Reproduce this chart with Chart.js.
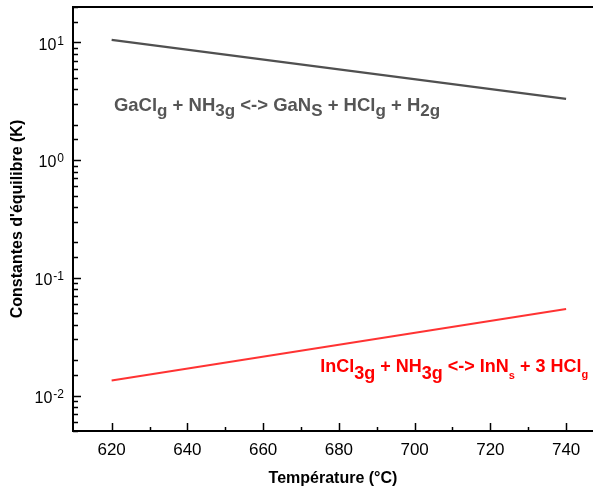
<!DOCTYPE html>
<html>
<head>
<meta charset="utf-8">
<script src="https://cdn.jsdelivr.net/npm/chart.js@4.4.0/dist/chart.umd.min.js"></script>
<style>
html,body{margin:0;padding:0;background:#fff;overflow:hidden;}
canvas{display:block;}
</style>
</head>
<body>
<canvas id="c" width="593" height="491"></canvas>
<script>
// ---- data ----
const temperatures = [620, 740];
const kGaN = [10.5, 3.31];
const kInN = [0.0134, 0.0543];
const xTickValues = [620, 640, 660, 680, 700, 720, 740];
const xMinorTickValues = [630, 650, 670, 690, 710, 730];
const yMajorTickValues = [0.01, 0.1, 1, 10];
const yTickExponents = ['-2', '-1', '0', '1'];
const xTitle = 'Température (°C)';
const yTitle = "Constantes d'équilibre (K)";

const FONT = "'Liberation Sans', Arial, Helvetica, sans-serif";

// annotation text segments (text, font size, subscript shift)
const gaNLabel = [
  ['GaCl',18.5,0],['g',17,5],[' + NH',18.5,0],['3g',17,5],[' <-> GaN',18.5,0],['S',17,5],
  [' + HCl',18.5,0],['g',17,5],[' + H',18.5,0],['2g',17,5]
];
const inNLabel = [
  ['InCl',18,0],['3g',18,7],[' + NH',18,0],['3g',18,7],[' <-> InN',18,0],['s',11,7],
  [' + 3 HCl',18,0],['g',11,6]
];
const gaNLabelAnchor = {x: 620.6, y: 2.6};
const inNLabelAnchor = {x: 675.1, y: 0.0158};

function drawRich(ctx, segs, x, y, color){
  ctx.save();
  ctx.fillStyle = color;
  ctx.textBaseline = 'alphabetic';
  ctx.textAlign = 'left';
  let cx = x;
  for (const [t,s,dy] of segs){
    ctx.font = 'bold ' + s + 'px ' + FONT;
    ctx.fillText(t, cx, y + dy);
    cx += ctx.measureText(t).width;
  }
  ctx.restore();
}

const framePlugin = {
  id: 'frame',
  afterDatasetsDraw(chart){
    const {ctx, chartArea: a, scales} = chart;
    const xs = scales.x, ys = scales.y;
    ctx.save();
    ctx.strokeStyle = '#000';
    ctx.lineWidth = 2;
    ctx.beginPath();
    ctx.moveTo(chart.width + 2, a.top);
    ctx.lineTo(a.left, a.top);
    ctx.lineTo(a.left, a.bottom);
    ctx.lineTo(chart.width + 2, a.bottom);
    ctx.stroke();
    ctx.lineWidth = 1.5;
    ctx.beginPath();
    // x ticks (inward)
    for (const v of xTickValues){
      const px = Math.round(xs.getPixelForValue(v)) + 0.5;
      ctx.moveTo(px, a.bottom); ctx.lineTo(px, a.bottom - 8);
    }
    for (const v of xMinorTickValues){
      const px = Math.round(xs.getPixelForValue(v)) + 0.5;
      ctx.moveTo(px, a.bottom); ctx.lineTo(px, a.bottom - 4);
    }
    // y ticks (inward) from the log scale
    for (const t of ys.ticks){
      const v = t.value;
      if (v < ys.min || v > ys.max) continue;
      const lg = Math.log10(v);
      const major = Math.abs(lg - Math.round(lg)) < 1e-9;
      const py = Math.round(ys.getPixelForValue(v)) + 0.5;
      ctx.moveTo(a.left, py); ctx.lineTo(a.left + (major ? 8 : 5), py);
    }
    ctx.stroke();

    // y tick labels 10^n
    ctx.fillStyle = '#000';
    ctx.textBaseline = 'alphabetic';
    ctx.textAlign = 'left';
    yMajorTickValues.forEach((v, i) => {
      const py = ys.getPixelForValue(v);
      ctx.font = '16px ' + FONT;
      const wb = ctx.measureText('10').width;
      ctx.font = '12px ' + FONT;
      const we = ctx.measureText(yTickExponents[i]).width;
      const right = a.left - 9;
      const x0 = right - we - 1 - wb;
      ctx.font = '16px ' + FONT;
      ctx.fillText('10', x0, py + 7.3);
      ctx.font = '12px ' + FONT;
      ctx.fillText(yTickExponents[i], x0 + wb + 1, py + 2.3);
    });

    // annotations
    drawRich(ctx, gaNLabel, xs.getPixelForValue(gaNLabelAnchor.x), ys.getPixelForValue(gaNLabelAnchor.y), '#555555');
    drawRich(ctx, inNLabel, xs.getPixelForValue(inNLabelAnchor.x), ys.getPixelForValue(inNLabelAnchor.y), '#ff0000');
    ctx.restore();
  }
};

new Chart(document.getElementById('c'), {
  type: 'line',
  data: {
    datasets: [
      {
        data: temperatures.map((t, i) => ({x: t, y: kGaN[i]})),
        borderColor: '#505050', borderWidth: 2.2, pointRadius: 0, fill: false, tension: 0
      },
      {
        data: temperatures.map((t, i) => ({x: t, y: kInN[i]})),
        borderColor: '#ff3333', borderWidth: 2, pointRadius: 0, fill: false, tension: 0
      }
    ]
  },
  options: {
    responsive: false,
    animation: false,
    events: [],
    layout: {padding: {top: 7, right: 0, left: 0, bottom: 0}},
    plugins: {legend: {display: false}, tooltip: {enabled: false}},
    scales: {
      x: {
        type: 'linear',
        min: 609.8, max: 747.1,
        grid: {display: false, drawTicks: false},
        border: {display: false},
        afterBuildTicks: (s) => { s.ticks = xTickValues.map(v => ({value: v})); },
        afterFit: (s) => { s.height = 60; },
        ticks: {
          autoSkip: false, maxRotation: 0, padding: 9,
          color: '#000', font: {family: FONT, size: 17},
          callback: (v) => String(v)
        },
        title: {display: true, text: xTitle, color: '#000',
                font: {family: FONT, size: 16, weight: 'bold'}, padding: {top: 0, bottom: 3}}
      },
      y: {
        type: 'logarithmic',
        min: 0.005, max: 20,
        grid: {display: false, drawTicks: false},
        border: {display: false},
        afterFit: (s) => { s.width = 73; },
        ticks: {display: false, autoSkip: false},
        title: {display: true, text: yTitle, color: '#000',
                font: {family: FONT, size: 16, weight: 'bold'}, padding: {top: 8, bottom: 0}}
      }
    }
  },
  plugins: [framePlugin]
});
</script>
</body>
</html>
